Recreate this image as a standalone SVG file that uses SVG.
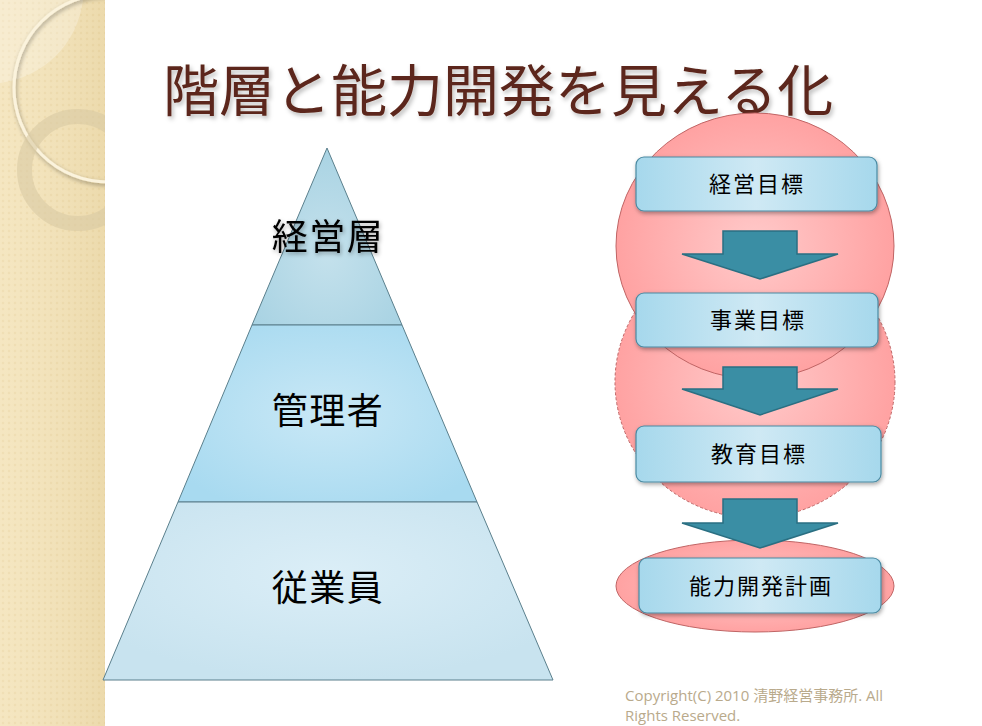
<svg xmlns="http://www.w3.org/2000/svg" width="982" height="726" viewBox="0 0 982 726">
<defs>
<pattern id="dots" width="6" height="6" patternUnits="userSpaceOnUse">
<rect width="6" height="6" fill="#f3e2b6"/>
<circle cx="3" cy="3" r="1.3" fill="#ead49e" opacity="0.6"/>
</pattern>
<clipPath id="stripClip"><rect x="0" y="0" width="105" height="726"/></clipPath>
<linearGradient id="stripShade" x1="0" y1="0" x2="1" y2="0">
<stop offset="0" stop-color="#fff" stop-opacity="0.15"/>
<stop offset="1" stop-color="#d8c28e" stop-opacity="0.25"/>
</linearGradient>
<radialGradient id="pink" cx="0.5" cy="0.5" r="0.5">
<stop offset="0" stop-color="#ffcaca"/>
<stop offset="1" stop-color="#ffa2a2"/>
</radialGradient>
<linearGradient id="boxFill" x1="0" y1="0" x2="1" y2="0">
<stop offset="0" stop-color="#a6d8ec"/>
<stop offset="0.5" stop-color="#cfe9f4"/>
<stop offset="1" stop-color="#a6d8ec"/>
</linearGradient>
<radialGradient id="pyrTop" cx="0.5" cy="0.6" r="0.6">
<stop offset="0" stop-color="#c4e1ec"/>
<stop offset="1" stop-color="#a9d3e3"/>
</radialGradient>
<radialGradient id="pyrMid" cx="0.5" cy="0.5" r="0.6">
<stop offset="0" stop-color="#c9e8f6"/>
<stop offset="1" stop-color="#a8daf0"/>
</radialGradient>
<radialGradient id="pyrBot" cx="0.5" cy="0.4" r="0.6">
<stop offset="0" stop-color="#dbeef7"/>
<stop offset="1" stop-color="#c8e3ef"/>
</radialGradient>
<filter id="shadow" x="-10%" y="-10%" width="130%" height="140%">
<feDropShadow dx="1" dy="2" stdDeviation="2" flood-color="#000" flood-opacity="0.35"/>
</filter>
<filter id="tshadow" x="-5%" y="-10%" width="115%" height="140%">
<feDropShadow dx="2" dy="3" stdDeviation="2" flood-color="#000" flood-opacity="0.25"/>
</filter>
<style>
.box{fill:url(#boxFill);stroke:#4a8aa2;stroke-width:1.2;filter:url(#shadow)}
.btxt{font-family:"Noto Sans CJK JP","Noto Sans",sans-serif;font-size:22px;letter-spacing:2px;fill:#000;text-anchor:middle}
.ptxt{font-family:"Noto Sans CJK JP","Noto Sans",sans-serif;font-size:36px;letter-spacing:1.5px;fill:#000;text-anchor:middle}
.arrow{fill:#3a8ea4;stroke:#2a6f82;stroke-width:1.5}
.pyr{stroke:#5a7f8c;stroke-width:1}
.pinkc{fill:url(#pink);stroke:#c06464;stroke-width:1}
</style>
</defs>
<rect width="982" height="726" fill="#fff"/>
<!-- left decorative strip -->
<g id="strip">
<rect x="0" y="0" width="105" height="726" fill="url(#dots)"/>
<rect x="0" y="0" width="105" height="726" fill="url(#stripShade)"/>
<g clip-path="url(#stripClip)">
<path d="M0,83 A95,95 0 0 0 83,0 L0,0 Z" fill="#fff" opacity="0.25"/>
<circle cx="108" cy="88" r="94" fill="none" stroke="#fbf3dd" stroke-width="3" filter="url(#shadow)"/>
<circle cx="78" cy="170" r="53.5" fill="none" stroke="#d9c9a4" stroke-width="15" opacity="0.6"/>
</g>
</g>
<!-- title -->
<text id="title" x="163" y="111" font-family="'Noto Sans CJK JP','Noto Sans',sans-serif" font-size="56" fill="#5c281c" filter="url(#tshadow)">階層と能力開発を見える化</text>
<!-- pyramid -->
<g id="pyr-top">
<polygon class="pyr" points="327,148 402,325 252,325" fill="url(#pyrTop)"/>
<text class="ptxt" x="328" y="250" filter="url(#shadow)">経営層</text>
</g>
<g id="pyr-mid">
<polygon class="pyr" points="252,325 402,325 477,502 178,502" fill="url(#pyrMid)"/>
<text class="ptxt" x="328" y="424">管理者</text>
</g>
<g id="pyr-bot">
<polygon class="pyr" points="178,502 477,502 553,680 103,680" fill="url(#pyrBot)"/>
<text class="ptxt" x="328" y="601">従業員</text>
</g>
<!-- pink circles -->
<g id="circle2"><ellipse class="pinkc" cx="755" cy="382" rx="140" ry="136" stroke-dasharray="3,2"/></g>
<g id="circle1"><ellipse class="pinkc" cx="755" cy="246" rx="139" ry="133"/></g>
<g id="ellipse3"><ellipse class="pinkc" cx="755" cy="586" rx="139" ry="46"/></g>
<!-- connectors -->
<g id="connectors">
<polygon class="arrow" points="723,231 797,231 797,254 838,254 760,279 682,254 723,254"/>
<polygon class="arrow" points="723,367 797,367 797,389 838,389 760,415 682,389 723,389"/>
<polygon class="arrow" points="723,499 797,499 797,523 838,523 760,548 682,523 723,523"/>
</g>
<!-- boxes -->
<g id="box1"><rect class="box" x="636" y="157" width="241" height="54" rx="8"/><text class="btxt" x="757" y="192">経営目標</text></g>
<g id="box2"><rect class="box" x="636" y="293" width="242" height="54" rx="8"/><text class="btxt" x="758" y="328">事業目標</text></g>
<g id="box3"><rect class="box" x="636" y="426" width="245" height="56" rx="8"/><text class="btxt" x="759" y="462">教育目標</text></g>
<g id="box4"><rect class="box" x="639" y="558" width="242" height="55" rx="8"/><text class="btxt" x="761" y="594">能力開発計画</text></g>
<!-- copyright -->
<g id="copyright" font-family="'Open Sans','Noto Sans CJK JP',sans-serif" font-size="15" fill="#b9aa8c">
<text x="625" y="701">Copyright(C) 2010 清野経営事務所. All</text>
<text x="625" y="721">Rights Reserved.</text>
</g>
</svg>
